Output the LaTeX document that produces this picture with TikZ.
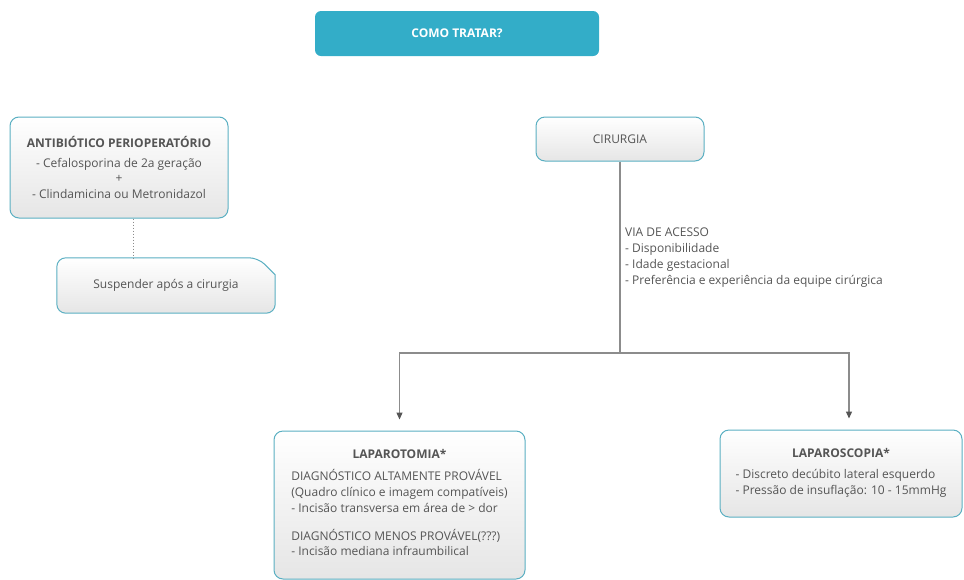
\documentclass[tikz,border=0pt]{standalone}
\usepackage{fontspec}
\setmainfont{Open Sans}
\usetikzlibrary{positioning}
\usetikzlibrary{backgrounds}
\usetikzlibrary{arrows.meta}

\definecolor{tealfill}{HTML}{33ADC8}
\definecolor{tealline}{HTML}{5AAFC2}
\definecolor{txtgray}{HTML}{555555}
\definecolor{linegray}{HTML}{8C8C8C}
\definecolor{tipgray}{HTML}{555555}

\tikzset{
	card/.style = {draw = tealline, line width = 1pt, rounded corners = 9pt, top color = white, bottom color = black!10, text = txtgray, inner sep = 0pt},
	link/.style = {linegray, line width = 1.2pt},
	tip/.style = {-{Triangle[length = 7pt, width = 6pt, color = tipgray]}, shorten > = 11pt},
}

\begin{document}
\begin{tikzpicture}[x = 1pt, y = -1pt, font = \fontsize{12pt}{15.8pt}\selectfont]
					\useasboundingbox (0, 0) rectangle (964, 579);
					% top question
					\node [fill = tealfill, rounded corners = 6pt, minimum width = 284pt, minimum height = 45pt, text = white, font = \fontsize{12pt}{15.8pt}\selectfont\bfseries] (ask) at (457, 33.5) {COMO TRATAR?};
					% left branch
					\node [card, minimum width = 218pt, minimum height = 101pt, align = center] (anti) at (119, 167.5) {\textbf{ANTIBIÓTICO PERIOPERATÓRIO}\\[4pt] - Cefalosporina de 2a geração\\ +\\ - Clindamicina ou Metronidazol};
					\node [text = txtgray, minimum width = 218pt, minimum height = 55pt] (sus) at (166, 285.5) {Suspender após a cirurgia};
					\begin{scope}[on background layer]
						\draw [card] (sus.south west) [rounded corners = 9pt] -- (sus.north west) -- ([xshift = -17pt]sus.north east) [sharp corners] -- ([yshift = -17pt]sus.north east) [rounded corners = 9pt] -- (sus.south east) -- cycle;
					\end{scope}
					\draw [linegray, line width = 1pt, dash pattern = on 1.5pt off 1.5pt] ([xshift = 14pt]anti.south) -- ([xshift = 14pt]anti.south |- sus.north);
					% right branch
					\node [card, minimum width = 168pt, minimum height = 44pt] (cir) at (620, 139) {CIRURGIA};
					\node [text = txtgray, anchor = north west, align = left, inner sep = 0pt] (via) at (625, 228) {VIA DE ACESSO\\ - Disponibilidade\\ - Idade gestacional\\ - Preferência e experiência da equipe cirúrgica};
					\node [card, minimum width = 251pt, minimum height = 148pt, align = center] (lapt) at (399.5, 505) {\textbf{LAPAROTOMIA*}\\[10pt] \begin{tabular}{@{}l@{}}DIAGNÓSTICO ALTAMENTE PROVÁVEL\\ (Quadro clínico e imagem compatíveis)\\ - Incisão transversa em área de > dor\\[12pt] DIAGNÓSTICO MENOS PROVÁVEL(???)\\ - Incisão mediana infraumbilical\end{tabular}};
					\node [card, minimum width = 242pt, minimum height = 87pt, align = center] (laps) at (841, 473.5) {\textbf{LAPAROSCOPIA*}\\[9pt] \begin{tabular}{@{}l@{}}- Discreto decúbito lateral esquerdo\\ - Pressão de insuflação: 10 - 15mmHg\end{tabular}};
					\coordinate (split) at (620, 353);
					\draw [link] (cir.south) -- (split);
					\draw [link, tip] (split) -| (lapt.north);
					\draw [link, tip] (split) -| ([xshift = 8pt]laps.north);
				\end{tikzpicture}
\end{document}
